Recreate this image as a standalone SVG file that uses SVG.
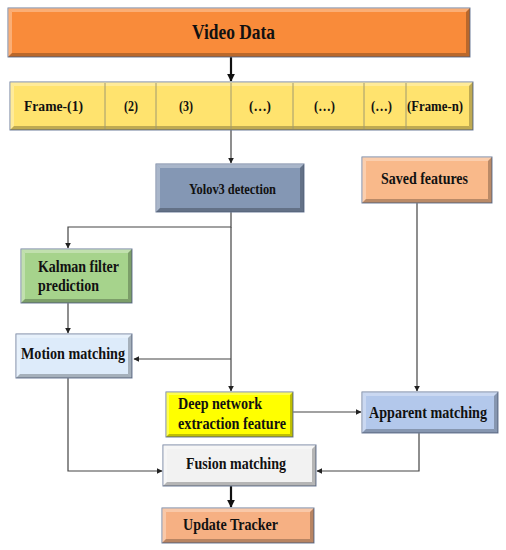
<svg xmlns="http://www.w3.org/2000/svg" width="506" height="550" viewBox="0 0 506 550">
<defs>
<style>
.box{stroke:#6F7F9C;stroke-width:1}
.hl{fill:#FFFFFF;opacity:0.3}
.sh{fill:#000000;opacity:0.25}
.t{font-family:"Liberation Serif","Times New Roman",serif;font-weight:bold;fill:#111111}
.ln{fill:none;stroke:#444444;stroke-width:1.2}
.thick{fill:none;stroke:#111111;stroke-width:2.2}
.div{stroke:#A09A70;stroke-width:1}
</style>
<marker id="ah" viewBox="0 0 10 10" refX="9" refY="5" markerWidth="6" markerHeight="6" orient="auto" markerUnits="userSpaceOnUse">
<path d="M0,0 L10,5 L0,10 z" fill="#222222"/>
</marker>
<marker id="ahb" viewBox="0 0 10 10" refX="9" refY="5" markerWidth="8" markerHeight="8" orient="auto" markerUnits="userSpaceOnUse">
<path d="M0,0 L10,5 L0,10 z" fill="#111111"/>
</marker>
</defs>
<rect width="506" height="550" fill="#FFFFFF"/>

<g id="connectors">
<line class="thick" x1="231" y1="57" x2="231" y2="81" marker-end="url(#ahb)"/>
<line class="ln" x1="231" y1="130" x2="231" y2="163" marker-end="url(#ah)"/>
<polyline class="ln" points="231,212 231,227 68,227 68,248" marker-end="url(#ah)"/>
<line class="ln" x1="231" y1="227" x2="231" y2="391" marker-end="url(#ah)"/>
<line class="ln" x1="68" y1="303" x2="68" y2="333" marker-end="url(#ah)"/>
<line class="ln" x1="231" y1="359" x2="134" y2="359" marker-end="url(#ah)"/>
<line class="ln" x1="417" y1="203" x2="417" y2="391" marker-end="url(#ah)"/>
<line class="ln" x1="293" y1="412" x2="361" y2="412" marker-end="url(#ah)"/>
<polyline class="ln" points="68,378 68,471 162,471" marker-end="url(#ah)"/>
<polyline class="ln" points="419,433 419,471 317,471" marker-end="url(#ah)"/>
<line class="thick" x1="231" y1="486" x2="231" y2="507" marker-end="url(#ahb)"/>
</g>

<g id="video-data">
<rect class="box" x="8" y="8" width="462" height="49" fill="#F98B3A"/>
<polygon class="hl" points="8,8 470,8 466,12 12,12"/>
<polygon class="hl" points="8,8 12,12 12,53 8,57"/>
<polygon class="sh" points="8,57 470,57 466,53 12,53"/>
<polygon class="sh" points="470,8 470,57 466,53 466,12"/>
<text class="t" x="192" y="39" font-size="21" textLength="83" lengthAdjust="spacingAndGlyphs">Video Data</text>
</g>

<g id="frames">
<rect class="box" x="10" y="82" width="463" height="48" fill="#FFE36E"/>
<polygon class="hl" points="10,82 473,82 469,86 14,86"/>
<polygon class="hl" points="10,82 14,86 14,126 10,130"/>
<polygon class="sh" points="10,130 473,130 469,126 14,126"/>
<polygon class="sh" points="473,82 473,130 469,126 469,86"/>
<line class="div" x1="105" y1="83" x2="105" y2="129"/>
<line class="div" x1="156" y1="83" x2="156" y2="129"/>
<line class="div" x1="231" y1="83" x2="231" y2="129"/>
<line class="div" x1="293" y1="83" x2="293" y2="129"/>
<line class="div" x1="364" y1="83" x2="364" y2="129"/>
<line class="div" x1="406" y1="83" x2="406" y2="129"/>
<text class="t" x="24" y="111" font-size="14" textLength="59" lengthAdjust="spacingAndGlyphs">Frame-(1)</text>
<text class="t" x="124" y="111" font-size="14" textLength="14" lengthAdjust="spacingAndGlyphs">(2)</text>
<text class="t" x="179" y="111" font-size="14" textLength="14" lengthAdjust="spacingAndGlyphs">(3)</text>
<text class="t" x="249" y="111" font-size="14" textLength="22" lengthAdjust="spacingAndGlyphs">(…)</text>
<text class="t" x="314" y="111" font-size="14" textLength="21" lengthAdjust="spacingAndGlyphs">(…)</text>
<text class="t" x="371" y="111" font-size="14" textLength="21" lengthAdjust="spacingAndGlyphs">(…)</text>
<text class="t" x="407" y="111" font-size="14" textLength="56" lengthAdjust="spacingAndGlyphs">(Frame-n)</text>
</g>

<g id="yolov3">
<rect class="box" x="156" y="164" width="148" height="48" fill="#8497B4"/>
<polygon class="hl" points="156,164 304,164 300,168 160,168"/>
<polygon class="hl" points="156,164 160,168 160,208 156,212"/>
<polygon class="sh" points="156,212 304,212 300,208 160,208"/>
<polygon class="sh" points="304,164 304,212 300,208 300,168"/>
<text class="t" x="189" y="194" font-size="14" textLength="87" lengthAdjust="spacingAndGlyphs">Yolov3 detection</text>
</g>

<g id="saved-features">
<rect class="box" x="362" y="157" width="130" height="46" fill="#F9B98A"/>
<polygon class="hl" points="362,157 492,157 488,161 366,161"/>
<polygon class="hl" points="362,157 366,161 366,199 362,203"/>
<polygon class="sh" points="362,203 492,203 488,199 366,199"/>
<polygon class="sh" points="492,157 492,203 488,199 488,161"/>
<text class="t" x="381" y="184" font-size="16" textLength="87" lengthAdjust="spacingAndGlyphs">Saved features</text>
</g>

<g id="kalman">
<rect class="box" x="21" y="249" width="111" height="54" fill="#A6D38C"/>
<polygon class="hl" points="21,249 132,249 128,253 25,253"/>
<polygon class="hl" points="21,249 25,253 25,299 21,303"/>
<polygon class="sh" points="21,303 132,303 128,299 25,299"/>
<polygon class="sh" points="132,249 132,303 128,299 128,253"/>
<text class="t" x="38" y="272" font-size="17" textLength="81" lengthAdjust="spacingAndGlyphs">Kalman filter</text>
<text class="t" x="38" y="291" font-size="17" textLength="61" lengthAdjust="spacingAndGlyphs">prediction</text>
</g>

<g id="motion-matching">
<rect class="box" x="16" y="334" width="116" height="44" fill="#DDEBFA"/>
<polygon class="hl" points="16,334 132,334 128,338 20,338"/>
<polygon class="hl" points="16,334 20,338 20,374 16,378"/>
<polygon class="sh" points="16,378 132,378 128,374 20,374"/>
<polygon class="sh" points="132,334 132,378 128,374 128,338"/>
<text class="t" x="21" y="359" font-size="16" textLength="104" lengthAdjust="spacingAndGlyphs">Motion matching</text>
</g>

<g id="deep-network">
<rect class="box" x="166" y="392" width="127" height="45" fill="#FFFF00"/>
<polygon class="hl" points="166,392 293,392 290,395 169,395"/>
<polygon class="hl" points="166,392 169,395 169,434 166,437"/>
<polygon class="sh" points="166,437 293,437 290,434 169,434"/>
<polygon class="sh" points="293,392 293,437 290,434 290,395"/>
<text class="t" x="178" y="409" font-size="16" textLength="84" lengthAdjust="spacingAndGlyphs">Deep network</text>
<text class="t" x="178" y="429" font-size="16" textLength="108" lengthAdjust="spacingAndGlyphs">extraction feature</text>
</g>

<g id="apparent-matching">
<rect class="box" x="362" y="392" width="136" height="41" fill="#B3C8EB"/>
<polygon class="hl" points="362,392 498,392 494,396 366,396"/>
<polygon class="hl" points="362,392 366,396 366,429 362,433"/>
<polygon class="sh" points="362,433 498,433 494,429 366,429"/>
<polygon class="sh" points="498,392 498,433 494,429 494,396"/>
<text class="t" x="369" y="418" font-size="16" textLength="118" lengthAdjust="spacingAndGlyphs">Apparent matching</text>
</g>

<g id="fusion-matching">
<rect class="box" x="163" y="445" width="153" height="41" fill="#F2F2F2"/>
<polygon class="hl" points="163,445 316,445 312,449 167,449"/>
<polygon class="hl" points="163,445 167,449 167,482 163,486"/>
<polygon class="sh" points="163,486 316,486 312,482 167,482"/>
<polygon class="sh" points="316,445 316,486 312,482 312,449"/>
<text class="t" x="186" y="469" font-size="16" textLength="100" lengthAdjust="spacingAndGlyphs">Fusion matching</text>
</g>

<g id="update-tracker">
<rect class="box" x="162" y="508" width="152" height="35" fill="#F6B083"/>
<polygon class="hl" points="162,508 314,508 310,512 166,512"/>
<polygon class="hl" points="162,508 166,512 166,539 162,543"/>
<polygon class="sh" points="162,543 314,543 310,539 166,539"/>
<polygon class="sh" points="314,508 314,543 310,539 310,512"/>
<text class="t" x="183" y="530" font-size="16" textLength="95" lengthAdjust="spacingAndGlyphs">Update Tracker</text>
</g>
</svg>
